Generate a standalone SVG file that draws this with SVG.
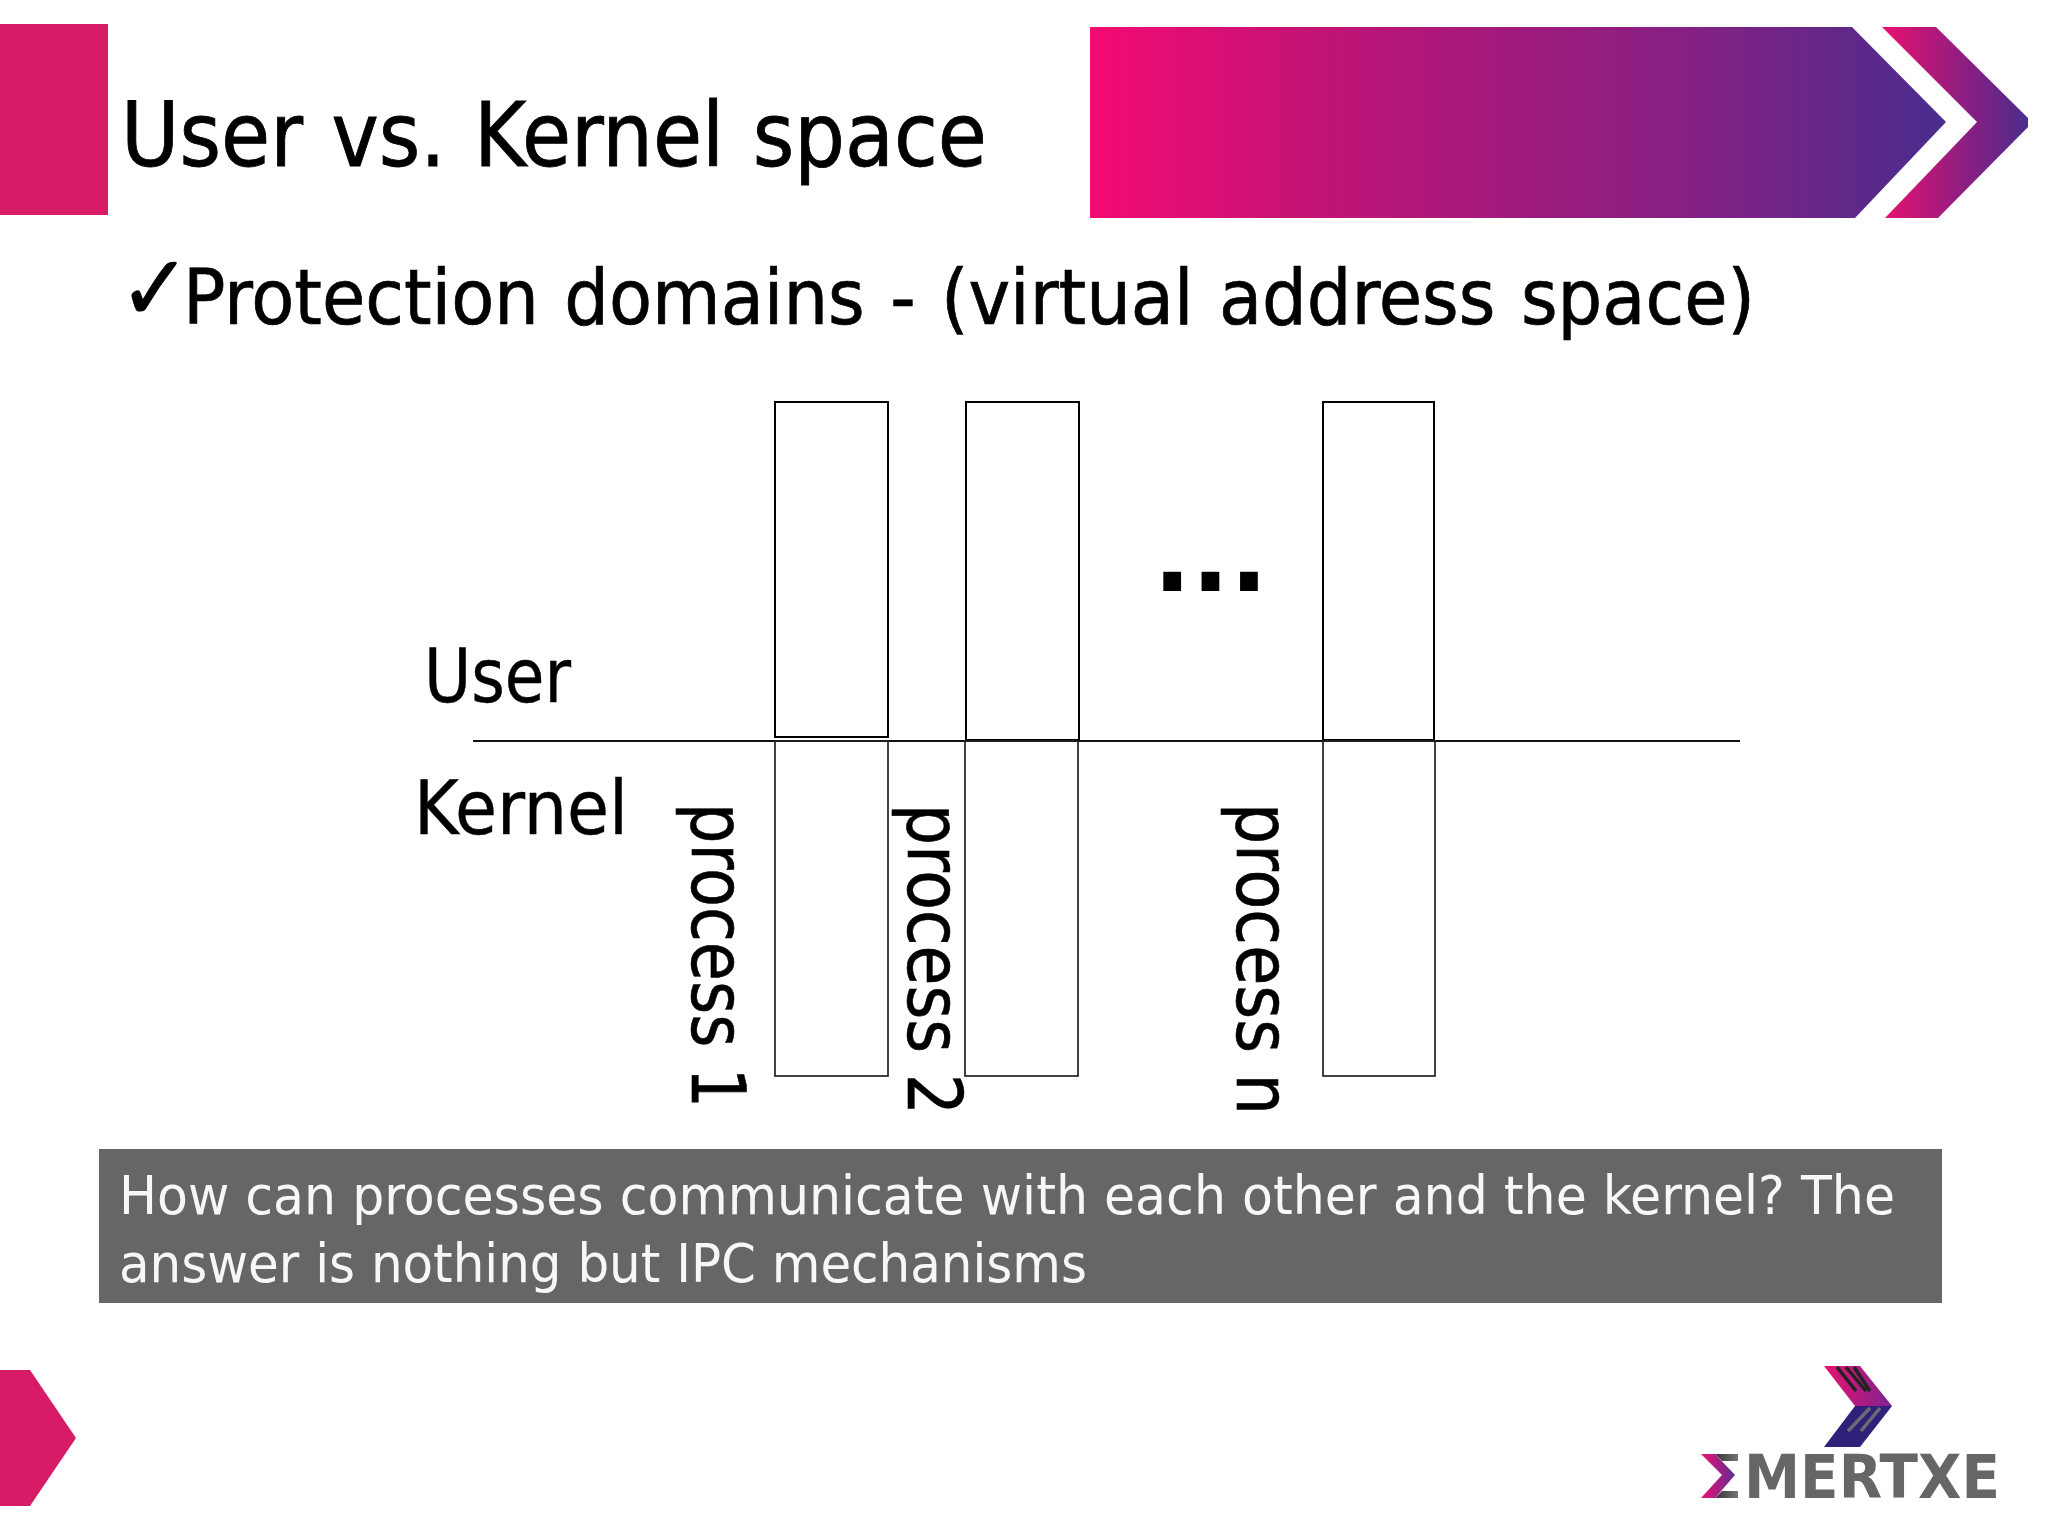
<svg xmlns="http://www.w3.org/2000/svg" width="2048" height="1536" viewBox="0 0 2048 1536">
<style>
text{font-family:"DejaVu Sans","Liberation Sans",sans-serif;font-stretch:condensed;fill:#000}
.box{fill:none;stroke:#000;stroke-width:2}
.low{fill:none;stroke:#222;stroke-width:1.7}
.bar{fill:#fff;font-size:53px}
.proc{font-size:75px;stroke:#000;stroke-width:.6}
.lab{font-size:74px;stroke:#000;stroke-width:.4}
</style>
<defs>
<linearGradient id="g1" gradientUnits="userSpaceOnUse" x1="1090" y1="0" x2="1946" y2="0"><stop offset="0" stop-color="#f30a72"/><stop offset=".3" stop-color="#bc1577"/><stop offset=".7" stop-color="#852083"/><stop offset="1" stop-color="#492d8d"/></linearGradient>
<linearGradient id="g2" gradientUnits="userSpaceOnUse" x1="1885" y1="0" x2="2028" y2="0"><stop offset="0" stop-color="#e5116f"/><stop offset=".6" stop-color="#861f83"/><stop offset="1" stop-color="#4a2d8d"/></linearGradient>
<linearGradient id="g3" gradientUnits="userSpaceOnUse" x1="1824" y1="0" x2="1892" y2="0"><stop offset="0" stop-color="#e8136f"/><stop offset="1" stop-color="#7d2290"/></linearGradient>
<linearGradient id="g4" gradientUnits="userSpaceOnUse" x1="1701" y1="0" x2="1736" y2="0"><stop offset="0" stop-color="#ee1273"/><stop offset="1" stop-color="#5c2d92"/></linearGradient>
<linearGradient id="g5" gradientUnits="userSpaceOnUse" x1="1715" y1="0" x2="1738" y2="0"><stop offset="0" stop-color="#333"/><stop offset="1" stop-color="#777"/></linearGradient>
</defs>
<rect width="2048" height="1536" fill="#fff"/>
<g id="header">
<rect id="title-block" x="0" y="24" width="108" height="191" fill="#d81b66"/>
<polygon id="banner" points="1090,27 1852,27 1946,122 1855,218 1090,218" fill="url(#g1)"/>
<polygon id="chevron" points="1882,27 1936,27 2028,118 2028,127 1938,218 1885,218 1977,122" fill="url(#g2)"/>
<text id="title" x="121" y="166" font-size="89" textLength="866" lengthAdjust="spacingAndGlyphs" style="word-spacing:3px;stroke:#000;stroke-width:.8">User vs. Kernel space</text>
</g>
<g id="bullet">
<text x="119" y="320" font-size="92" textLength="72" lengthAdjust="spacingAndGlyphs" style="stroke:#000;stroke-width:.8">✓</text>
<text x="183" y="324" font-size="77" textLength="1572" lengthAdjust="spacingAndGlyphs" style="word-spacing:3px;stroke:#000;stroke-width:.7">Protection domains - (virtual address space)</text>
</g>
<g id="connectors"><line x1="473" y1="741" x2="1740" y2="741" stroke="#111" stroke-width="1.8"/></g>
<g id="process-1"><rect class="box" x="775" y="402" width="113" height="335"/><rect class="low" x="775" y="741" width="113" height="335"/>
<text class="proc" transform="translate(692,803) rotate(90)" textLength="305" lengthAdjust="spacingAndGlyphs">process 1</text></g>
<g id="process-2"><rect class="box" x="966" y="402" width="113" height="338"/><rect class="low" x="965" y="741" width="113" height="335"/>
<text class="proc" transform="translate(908,804) rotate(90)" textLength="311" lengthAdjust="spacingAndGlyphs">process 2</text></g>
<g id="process-n"><rect class="box" x="1323" y="402" width="111" height="338"/><rect class="low" x="1323" y="741" width="112" height="335"/>
<text class="proc" transform="translate(1237,803) rotate(90)" textLength="312" lengthAdjust="spacingAndGlyphs">process n</text></g>
<text id="dots" x="1153" y="591" font-size="101" font-weight="700" style="font-stretch:normal">...</text>
<text id="user" class="lab" x="424" y="702" textLength="147" lengthAdjust="spacingAndGlyphs">User</text>
<text id="kernel" class="lab" x="414" y="834" textLength="214" lengthAdjust="spacingAndGlyphs">Kernel</text>
<g id="callout">
<rect x="99" y="1149" width="1843" height="154" fill="#676568"/>
<text class="bar" style="fill:#f7f7f7" x="119" y="1214" textLength="1776" lengthAdjust="spacingAndGlyphs">How can processes communicate with each other and the kernel? The</text>
<text class="bar" style="fill:#f7f7f7" x="119" y="1282" textLength="968" lengthAdjust="spacingAndGlyphs">answer is nothing but IPC mechanisms</text>
</g>
<polygon id="footer-arrow" points="0,1370 30,1370 76,1438 30,1506 0,1506" fill="#d81b66"/>
<g id="logo">
<polygon points="1824,1366 1860,1366 1892,1406 1855,1406" fill="url(#g3)"/>
<polygon points="1855,1406 1892,1406 1860,1447 1824,1447" fill="#2f2179"/>
<g stroke="#222" stroke-width="3.5"><line x1="1837" y1="1367" x2="1856" y2="1391"/><line x1="1846" y1="1367" x2="1866" y2="1391"/><line x1="1854" y1="1367" x2="1870" y2="1391"/></g>
<g stroke="#6d6a72" stroke-width="3.5"><line x1="1870" y1="1408" x2="1848" y2="1431"/><line x1="1880" y1="1408" x2="1861" y2="1431"/></g>
<polygon points="1715,1454 1738,1454 1738,1461 1722,1461" fill="url(#g5)"/>
<polygon points="1722,1491 1738,1491 1738,1498 1715,1498" fill="url(#g5)"/>
<polygon points="1701,1454 1715,1454 1735,1475 1715,1498 1701,1498 1722,1475" fill="url(#g4)"/>
<text x="1744" y="1498" font-size="60" font-weight="700" style="fill:#666;font-stretch:normal" textLength="256" lengthAdjust="spacingAndGlyphs">MERTXE</text>
</g>
</svg>
